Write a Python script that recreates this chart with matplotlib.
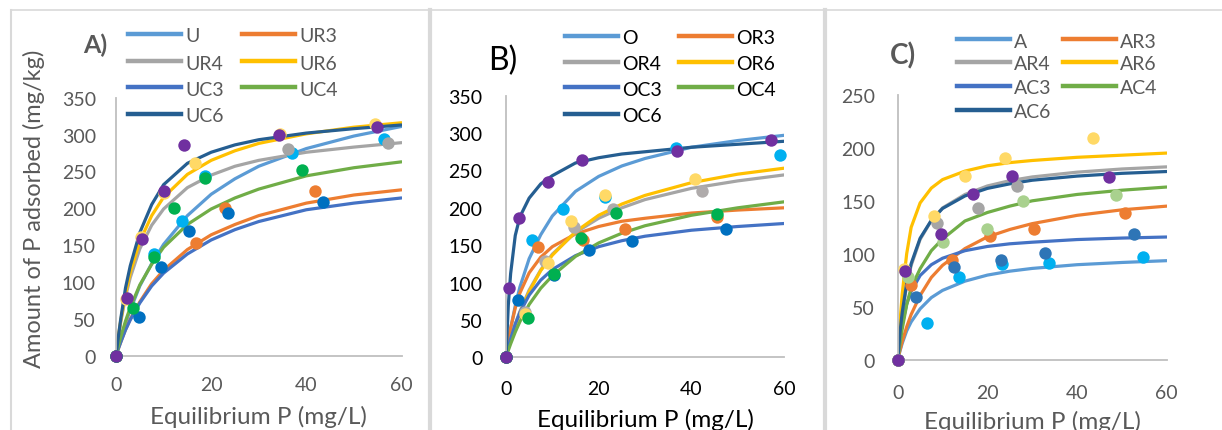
import matplotlib.pyplot as plt
from matplotlib.lines import Line2D

plt.rcParams['font.family'] = ['Lato', 'DejaVu Sans']

XS = [0, 0.5, 1, 2, 3, 5, 7.5, 10, 15, 20, 25, 30, 40, 50, 60]

LINE_COLORS = ['#5B9BD5', '#ED7D31', '#A5A5A5', '#FFC000', '#4472C4', '#70AD47', '#255E91']

# ---------------- panel A ----------------
a_names = ['U', 'UR3', 'UR4', 'UR6', 'UC3', 'UC4', 'UC6']
a_curves = [
    [0, 12, 23, 44, 62, 94.5, 125, 151, 190, 219, 240, 257, 281, 298, 311],
    [0, 9.7, 18.6, 35.4, 49.7, 73, 97.6, 116, 144, 164, 178, 190, 207, 218, 225],
    [0, 24.6, 45.7, 80, 106, 145, 177, 199, 228, 245, 257, 265, 276, 283, 289],
    [0, 26, 48, 84, 113, 155, 190, 215, 246, 265, 278, 288, 301, 310, 316],
    [0, 9.5, 18.3, 35, 48.6, 71.5, 94.6, 112, 138, 157, 171, 182, 198, 207, 214],
    [0, 13.2, 25.4, 47, 65.5, 96, 124, 147, 178, 199, 214, 226, 244, 255, 263],
    [0, 26, 50, 92, 122, 167, 205, 232, 261, 276, 286, 293, 302, 308, 313],
]
a_px = [
    [0, 8.0, 13.8, 18.6, 37.0, 56.3],
    [0, 16.9, 22.9, 41.9],
    [0, 36.1, 57.2],
    [0, 2.2, 5.3, 10.1, 16.7, 34.4, 54.4],
    [0, 4.8, 9.4, 15.4, 23.6, 43.6],
    [0, 3.6, 8.05, 12.1, 18.8, 39.1],
    [0, 2.24, 5.5, 10.0, 14.3, 34.2, 54.8],
]
a_py = [
    [0, 138, 183, 244, 275, 294],
    [0, 153, 200, 224],
    [0, 281, 288],
    [0, 77, 161, 221, 261, 301, 314],
    [0, 52, 120, 169, 193, 208],
    [0, 65, 134, 201, 241, 252],
    [0, 78, 158, 223, 286, 300, 310],
]
a_pt_colors = ['#00B0F0', '#ED7D31', '#A5A5A5', '#FFD966', '#0070C0', '#00B050', '#7030A0']

# ---------------- panel B ----------------
b_names = ['O', 'OR3', 'OR4', 'OR6', 'OC3', 'OC4', 'OC6']
b_curves = [
    [0, 20.4, 38.5, 69, 94, 132, 164, 189, 222, 242, 256, 266, 281, 290, 297],
    [0, 21, 39, 66, 86, 113, 134, 148, 165, 175, 182, 186, 193, 197, 200],
    [0, 12.7, 24.2, 44.4, 61.3, 90, 117, 138, 167, 186, 200, 211, 226, 236, 244],
    [0, 12, 23, 42.6, 59, 88, 116, 136.6, 168, 190, 205, 216.6, 233.6, 245, 253],
    [0, 13.3, 24.9, 44.3, 59.9, 83.2, 103.3, 117.4, 136, 148, 156, 162, 170, 175, 179],
    [0, 9.3, 17.9, 33.8, 47.7, 70.7, 92.4, 109, 135, 153, 166, 176, 190, 200, 208],
    [0, 70, 112, 163, 188, 213, 232, 243, 260, 267, 272, 275, 281, 285, 289],
]
b_px = [
    [0, 5.7, 12.4, 21.4, 36.6, 59.1],
    [0, 6.8, 16.7, 25.7, 45.6],
    [0, 4.0, 8.4, 14.7, 23.2, 42.4],
    [0, 4.2, 9.0, 14.0, 21.4, 40.8],
    [0, 2.5, 10.4, 17.9, 27.3, 47.4],
    [0, 4.8, 10.4, 16.1, 23.7, 45.5],
    [0, 0.7, 2.9, 9.0, 16.5, 37.0, 57.1],
]
b_py = [
    [0, 157, 199, 214, 280, 270],
    [0, 147, 157, 172, 188],
    [0, 61, 129, 174, 198, 222],
    [0, 58, 126, 183, 217, 238],
    [0, 77, 110, 144, 156, 171],
    [0, 52, 112, 160, 193, 192],
    [0, 93, 186, 234, 264, 276, 291],
]
b_pt_colors = ['#00B0F0', '#ED7D31', '#AFABAB', '#FFD966', '#0070C0', '#00B050', '#7030A0']

# ---------------- panel C ----------------
c_names = ['A', 'AR3', 'AR4', 'AR6', 'AC3', 'AC4', 'AC6']
c_curves = [
    [0, 8.4, 15.6, 27.4, 35.9, 48.2, 58.8, 65.6, 74.3, 80, 83.7, 86.3, 89.8, 91.9, 93.6],
    [0, 9.1, 17.3, 31.2, 42.9, 60.8, 77.8, 89.2, 105, 116, 123, 128.5, 136.3, 141.5, 145],
    [0, 24.8, 43.3, 70.3, 89, 113.6, 131.4, 143.3, 156, 164, 169, 172.5, 177, 180, 182],
    [0, 35, 62, 100, 125, 148, 162, 170, 178, 183, 186, 188, 191, 193, 195],
    [0, 19.8, 33.3, 52.6, 64.6, 79.6, 89.8, 95.9, 103, 107, 109.5, 111, 113.5, 114.9, 115.9],
    [0, 15, 29, 52, 68, 86, 103, 114, 131, 139, 145, 150, 156, 160, 163],
    [0, 25.5, 44.6, 72.2, 90.8, 114.7, 131.6, 142.8, 154.6, 161.7, 166, 169.4, 173.3, 175.9, 177.6],
]
c_px = [
    [0, 6.6, 13.7, 23.2, 33.8, 54.8],
    [0, 3.0, 12.0, 20.6, 30.5, 50.6],
    [0, 8.7, 17.8, 26.5],
    [0, 1.3, 8.0, 15.0, 23.9, 43.6],
    [0, 4.1, 12.6, 23.0, 32.9, 52.6],
    [0, 2.2, 10.2, 19.9, 28.0, 48.8],
    [0, 1.6, 9.6, 16.7, 25.6, 47.2],
]
c_py = [
    [0, 34.5, 78, 90.5, 91.4, 97.4],
    [0, 71, 94, 116.5, 123.4, 138.5],
    [0, 129, 143, 164],
    [0, 86, 136, 173, 190, 209],
    [0, 59, 88, 94, 101, 119],
    [0, 78, 111.5, 123.4, 150, 155.5],
    [0, 83.5, 118.7, 156.4, 173, 172],
]
c_pt_colors = ['#00B0F0', '#ED7D31', '#A5A5A5', '#FFD966', '#2E75B6', '#A9D18E', '#7030A0']

GRAY_TXT = '#595959'
W, H = 1222, 431


def draw_panel(ax, names, curves, px, py, pt_colors, ymax, txt_color, xpad, ypad, lpad):
    for i, name in enumerate(names):
        ax.plot(XS, curves[i], color=LINE_COLORS[i], lw=2.3, solid_capstyle='round', zorder=2)
    for i in range(len(names)):
        ax.scatter(px[i], py[i], s=80, color=pt_colors[i], zorder=3, clip_on=False,
                   linewidths=0)
    ax.set_xlim(0, 60)
    ax.set_ylim(0, ymax)
    ax.set_xticks([0, 20, 40, 60])
    ax.set_yticks(range(0, ymax + 1, 50))
    for s in ['top', 'right']:
        ax.spines[s].set_visible(False)
    for s in ['left', 'bottom']:
        ax.spines[s].set_color('#BFBFBF')
        ax.spines[s].set_linewidth(1.3)
    ax.tick_params(length=0, labelsize=14, labelcolor=txt_color)
    ax.tick_params(axis='y', pad=ypad)
    ax.tick_params(axis='x', pad=xpad)
    ax.set_xlabel('Equilibrium P (mg/L)', fontsize=17.5, color=txt_color, labelpad=lpad)
    ax.set_facecolor('none')


def draw_legend(names, x0, rows, txt_color, col2_x):
    # Excel-style legend, filled row by row in two columns
    for k, name in enumerate(names):
        r, c = divmod(k, 2)
        hx = x0 if c == 0 else col2_x
        y = 1 - rows[r] / H
        fig.add_artist(Line2D([hx / W, (hx + 53) / W], [y, y], color=LINE_COLORS[k], lw=3.2))
        fig.text((hx + 57) / W, y - 2 / H, name, fontsize=14, color=txt_color,
                 ha='left', va='center')


fig = plt.figure(figsize=(W / 100, H / 100), dpi=100)

# panel frames
fig.add_artist(Line2D([11 / W, 1], [1 - 11 / H] * 2, color='#D9D9D9', lw=1.2))
for xp, lw in [(11, 1.5), (430, 3), (825, 3)]:
    fig.add_artist(Line2D([xp / W] * 2, [0, 1 - 11 / H], color='#D9D9D9', lw=lw))

ax_a = fig.add_axes([116 / W, (H - 356.7) / H, 285.5 / W, 258 / H])
ax_b = fig.add_axes([506 / W, (H - 358.3) / H, 278 / W, 261.6 / H])
ax_c = fig.add_axes([897.7 / W, (H - 361) / H, 269 / W, 265.3 / H])

draw_panel(ax_a, a_names, a_curves, a_px, a_py, a_pt_colors, 350, GRAY_TXT, 14.5, 14.5, 9)
draw_panel(ax_b, b_names, b_curves, b_px, b_py, b_pt_colors, 350, 'black', 16.5, 17, 7.5)
draw_panel(ax_c, c_names, c_curves, c_px, c_py, c_pt_colors, 250, GRAY_TXT, 17, 16.3, 6.5)

ax_a.set_ylabel('Amount of P adsorbed (mg/kg)', fontsize=17, color=GRAY_TXT)
ax_a.yaxis.set_label_coords(-0.25, 0.575)

draw_legend(a_names, 128, [35, 62, 88, 115], GRAY_TXT, 242)
draw_legend(b_names, 565, [37, 63, 88, 115], 'black', 679)
draw_legend(c_names, 957, [40, 63, 87, 111], GRAY_TXT, 1063)

fig.text(83 / W, 1 - 45 / H, 'A)', fontsize=18, fontweight='bold', color=GRAY_TXT,
         ha='left', va='center')
fig.text(488 / W, 1 - 61 / H, 'B)', fontsize=23, color='black', ha='left', va='center')
fig.text(890 / W, 1 - 56 / H, 'C)', fontsize=20, fontweight='bold', color=GRAY_TXT,
         ha='left', va='center')

fig.savefig('out.png', dpi=100)
